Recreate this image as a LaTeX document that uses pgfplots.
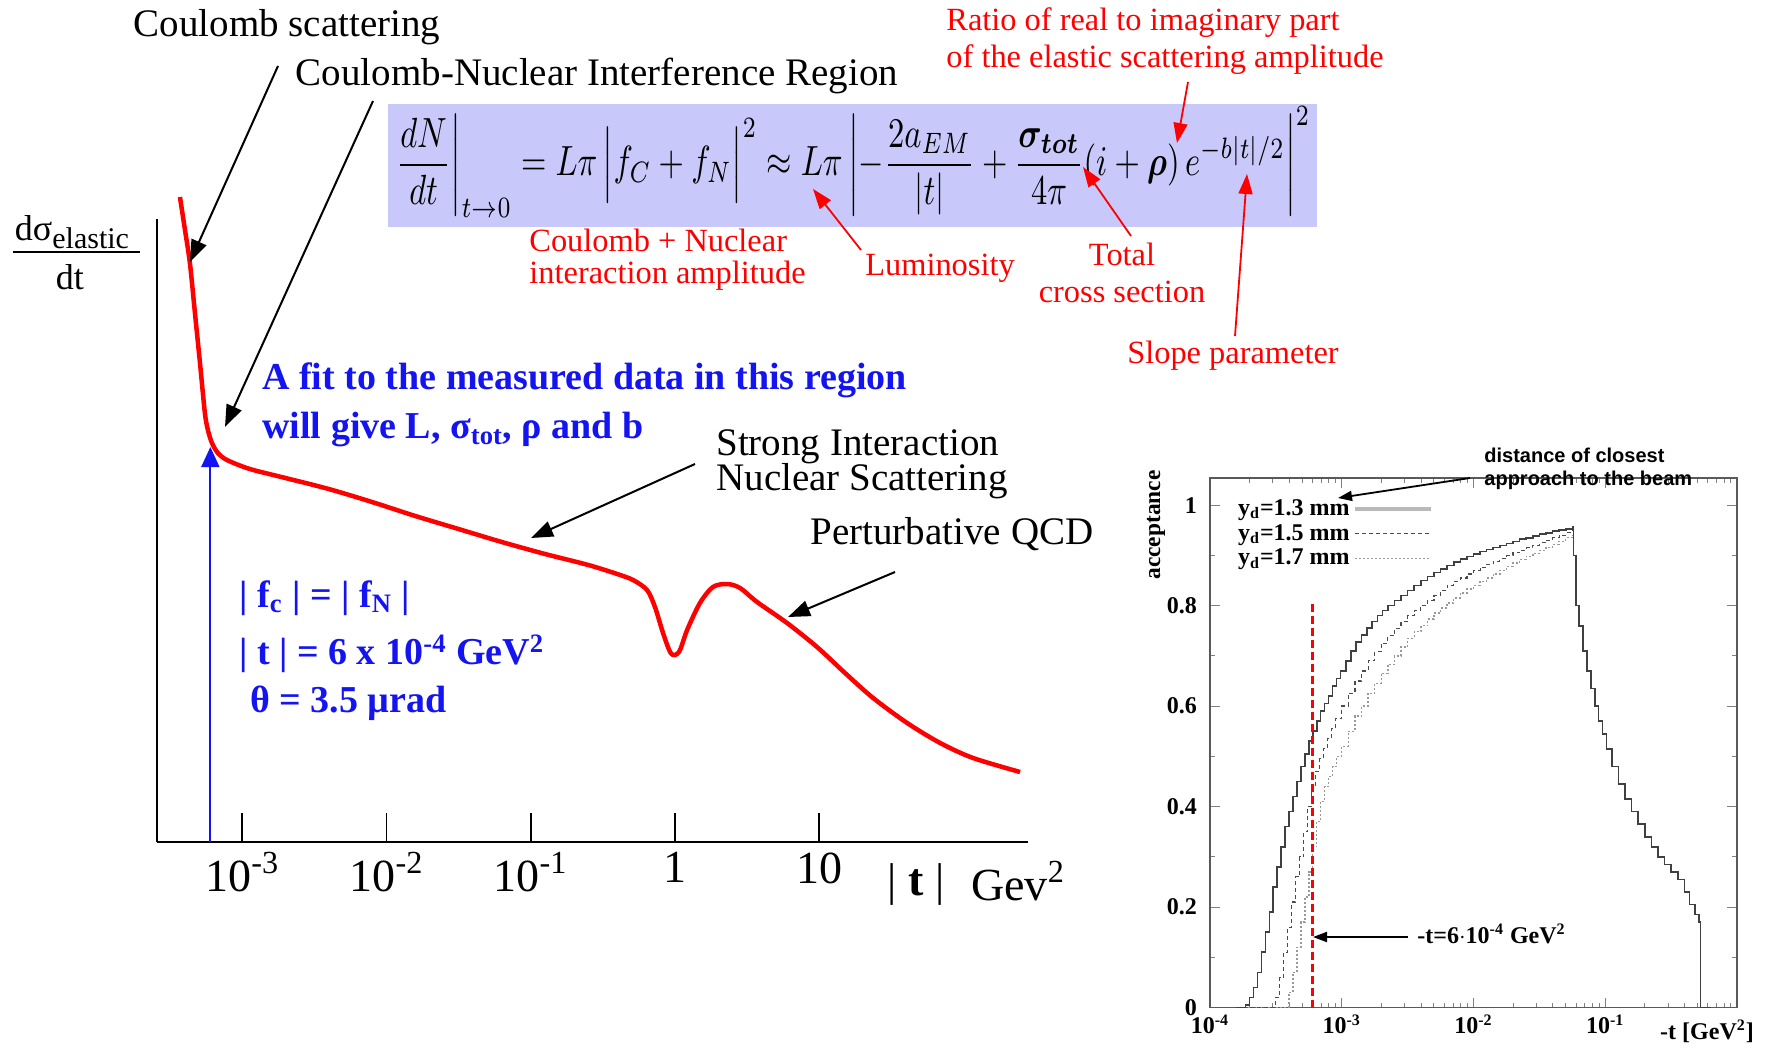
\documentclass[border=0pt]{standalone}
\usepackage{amsmath}
\usepackage{bm}
\usepackage{graphicx}
\usepackage{fontspec}
\setmainfont{Liberation Serif}
\newfontfamily\arialfont{Liberation Sans}
\usepackage{pgfplots}
\pgfplotsset{compat=1.18}
\usetikzlibrary{arrows.meta}
\definecolor{lav}{RGB}{200,200,250}
\definecolor{myblue}{RGB}{20,20,240}
\definecolor{myred}{RGB}{255,0,0}
\newcommand{\fA}{\fontsize{19.5}{22}\selectfont}
\newcommand{\fR}{\fontsize{16.2}{18}\selectfont}
\newcommand{\fB}{\fontsize{19}{22}\selectfont\bfseries}
\begin{document}
\begin{tikzpicture}[x=0.5pt,y=-0.5pt,
  barr/.style={black,line width=1pt,-{Triangle[length=11pt,width=8pt]}},
  rarr/.style={myred,line width=0.9pt,-{Triangle[length=10pt,width=7pt]}},
  lbl/.style={anchor=west, inner sep=0pt},
  ctr/.style={inner sep=0pt}]
\useasboundingbox (0,0) rectangle (1765,1048);
\clip (0,0) rectangle (1765,1048);
\fill[white] (0,0) rectangle (1765,1048);

% ---------------- left main axis ----------------
\begin{axis}[
  at={(78.65pt,-421pt)}, anchor=south west, scale only axis,
  width=435.35pt, height=311.5pt,
  xmin=-3.589, xmax=2.449, ymin=0, ymax=623,
  axis x line=bottom, axis y line=left,
  axis line style={-, line width=1.1pt, black},
  xtick={-3,-2,-1,0,1},
  xticklabels={{10\textsuperscript{-3}},{10\textsuperscript{-2}},{10\textsuperscript{-1}},{1},{10}},
  ytick=\empty,
  tick align=inside, major tick length=14.5pt,
  every tick/.style={black, line width=0.85pt},
  xticklabel style={font=\fontsize{23}{26}\selectfont, inner sep=5pt},
  clip=false,
]
\addplot[myred, line width=2.25pt, smooth] coordinates {
(-3.432,645) (-3.397,612) (-3.363,579) (-3.328,529) (-3.293,479) (-3.259,429)
(-3.238,412) (-3.210,399) (-3.169,389) (-3.106,382) (-2.947,373) (-2.700,364)
(-2.400,353) (-2.100,340) (-1.800,326) (-1.500,313) (-1.200,300) (-0.900,288)
(-0.600,277) (-0.400,268) (-0.290,262)
(-0.193,252) (-0.138,235) (-0.082,209) (-0.033,190) (0.001,187) (0.036,192)
(0.085,212) (0.174,239) (0.264,255) (0.362,258) (0.452,254) (0.570,240)
(0.778,219) (0.986,195) (1.180,169) (1.375,144) (1.611,119) (1.840,99)
(2.068,84) (2.394,70)};
\addplot[myblue, line width=0.9pt, -{Triangle[length=10pt,width=9pt]}] coordinates {(-3.221,0) (-3.221,395)};
\end{axis}

% ---------------- right acceptance axis ----------------
\begin{axis}[
  at={(605pt,-503.75pt)}, anchor=south west, scale only axis,
  width=263.5pt, height=264.75pt,
  xmin=-4, xmax=0, ymin=0, ymax=1.054,
  xtick={-4,-3,-2,-1,0},
  xticklabels={{10\textsuperscript{-4}},{10\textsuperscript{-3}},{10\textsuperscript{-2}},{10\textsuperscript{-1}},{}},
  minor xtick={-3.699,-3.523,-3.398,-3.301,-3.222,-3.155,-3.097,-3.046,
               -2.699,-2.523,-2.398,-2.301,-2.222,-2.155,-2.097,-2.046,
               -1.699,-1.523,-1.398,-1.301,-1.222,-1.155,-1.097,-1.046,
               -0.699,-0.523,-0.398,-0.301,-0.222,-0.155,-0.097,-0.046},
  ytick={0,0.2,0.4,0.6,0.8,1},
  yticklabels={0,0.2,0.4,0.6,0.8,1},
  minor ytick={0.1,0.3,0.5,0.7,0.9},
  tick align=inside, major tick length=5pt, minor tick length=2.5pt,
  every tick/.style={gray, line width=0.5pt},
  axis line style={gray!70!black, line width=0.6pt},
  ticklabel style={font=\bfseries\fontsize{12}{14}\selectfont},
  yticklabel style={xshift=-3pt},
  legend style={draw=none, fill=none, at={(0.045,0.968)}, anchor=north west,
     font=\bfseries\fontsize{12}{12}\selectfont, inner sep=0pt, row sep=-1pt,
     /tikz/every even column/.append style={column sep=10pt}},
  legend plot pos=right, legend cell align=left,
  legend image code/.code={\draw[#1] (0pt,0pt) -- (38pt,0pt);},
]
\addlegendimage{gray!55, line width=1.8pt}
\addlegendentry{y\textsubscript{d}=1.3 mm}
\addlegendimage{gray!60!black, line width=0.6pt, dash pattern=on 2pt off 1.5pt}
\addlegendentry{y\textsubscript{d}=1.5 mm}
\addlegendimage{gray!80, line width=0.8pt, dash pattern=on 1pt off 1pt}
\addlegendentry{y\textsubscript{d}=1.7 mm}
% 1.7 mm (dotted)
\addplot[const plot, forget plot, gray!80, line width=0.7pt, dash pattern=on 1pt off 1pt] coordinates {
(-3.80,0) (-3.43,0) (-3.40,0.03) (-3.37,0.07) (-3.34,0.12) (-3.31,0.17) (-3.28,0.22)
(-3.25,0.27) (-3.22,0.32) (-3.19,0.37) (-3.16,0.41) (-3.13,0.44) (-3.10,0.46)
(-3.07,0.48) (-3.04,0.50) (-3.00,0.52) (-2.95,0.55) (-2.90,0.58) (-2.85,0.60)
(-2.80,0.625) (-2.75,0.645) (-2.70,0.665) (-2.65,0.683) (-2.60,0.70) (-2.55,0.718)
(-2.50,0.735) (-2.45,0.748) (-2.40,0.76) (-2.35,0.773) (-2.30,0.785) (-2.25,0.795)
(-2.20,0.805) (-2.15,0.815) (-2.10,0.825) (-2.05,0.833) (-2.00,0.84) (-1.95,0.848)
(-1.90,0.855) (-1.85,0.863) (-1.80,0.87) (-1.75,0.878) (-1.70,0.885) (-1.65,0.892)
(-1.60,0.898) (-1.55,0.904) (-1.50,0.91) (-1.45,0.916) (-1.40,0.922) (-1.35,0.928)
(-1.30,0.935) (-1.25,0.94)
(-1.24,0.90) (-1.22,0.80) (-1.20,0.76) (-1.17,0.71) (-1.14,0.67) (-1.11,0.635)
(-1.08,0.60) (-1.05,0.57) (-1.02,0.545) (-0.99,0.515) (-0.95,0.48) (-0.90,0.445)
(-0.85,0.415) (-0.80,0.39) (-0.75,0.365) (-0.70,0.34) (-0.65,0.32) (-0.60,0.30)
(-0.55,0.285) (-0.50,0.27) (-0.45,0.255) (-0.40,0.23) (-0.36,0.205) (-0.32,0.185)
(-0.29,0.17) (-0.277,0) (-0.20,0)};
% 1.5 mm (dashed)
\addplot[const plot, forget plot, gray!60!black, line width=0.6pt, dash pattern=on 2pt off 1.5pt] coordinates {
(-3.80,0) (-3.53,0) (-3.50,0.02) (-3.47,0.06) (-3.44,0.11) (-3.41,0.16) (-3.38,0.21)
(-3.35,0.26) (-3.32,0.30) (-3.29,0.35) (-3.26,0.40) (-3.23,0.44) (-3.20,0.47)
(-3.17,0.495) (-3.14,0.515) (-3.11,0.535) (-3.08,0.555) (-3.05,0.575) (-3.00,0.60)
(-2.95,0.625) (-2.90,0.65) (-2.85,0.67) (-2.80,0.69) (-2.75,0.708) (-2.70,0.725)
(-2.65,0.74) (-2.60,0.755) (-2.55,0.768) (-2.50,0.78) (-2.45,0.79) (-2.40,0.80)
(-2.35,0.81) (-2.30,0.82) (-2.25,0.83) (-2.20,0.84) (-2.15,0.848) (-2.10,0.855)
(-2.05,0.863) (-2.00,0.87) (-1.95,0.876) (-1.90,0.882) (-1.85,0.888) (-1.80,0.893)
(-1.75,0.899) (-1.70,0.905) (-1.65,0.91) (-1.60,0.915) (-1.55,0.92) (-1.50,0.925)
(-1.45,0.93) (-1.40,0.935) (-1.35,0.94) (-1.30,0.945) (-1.25,0.95)
(-1.24,0.90) (-1.22,0.80) (-1.20,0.76) (-1.17,0.71) (-1.14,0.67) (-1.11,0.635)
(-1.08,0.60) (-1.05,0.57) (-1.02,0.545) (-0.99,0.515) (-0.95,0.48) (-0.90,0.445)
(-0.85,0.415) (-0.80,0.39) (-0.75,0.365) (-0.70,0.34) (-0.65,0.32) (-0.60,0.30)
(-0.55,0.285) (-0.50,0.27) (-0.45,0.255) (-0.40,0.23) (-0.36,0.205) (-0.32,0.185)
(-0.29,0.17) (-0.277,0) (-0.20,0)};
% 1.3 mm (solid)
\addplot[const plot, forget plot, black!75, line width=0.8pt] coordinates {
(-3.80,0) (-3.73,0.005) (-3.70,0.02) (-3.67,0.04) (-3.64,0.07) (-3.61,0.11) (-3.58,0.15)
(-3.55,0.19) (-3.52,0.24) (-3.49,0.28) (-3.46,0.32) (-3.43,0.36) (-3.40,0.39)
(-3.37,0.42) (-3.34,0.45) (-3.31,0.48) (-3.28,0.505) (-3.25,0.53) (-3.22,0.55)
(-3.19,0.57) (-3.16,0.59) (-3.13,0.605) (-3.10,0.62) (-3.07,0.64) (-3.04,0.655)
(-3.01,0.67) (-2.97,0.69) (-2.93,0.71) (-2.89,0.728) (-2.85,0.742) (-2.81,0.755)
(-2.77,0.768) (-2.73,0.78) (-2.69,0.79) (-2.65,0.80) (-2.60,0.81) (-2.55,0.82)
(-2.50,0.83) (-2.45,0.84) (-2.40,0.85) (-2.35,0.858) (-2.30,0.866) (-2.25,0.873)
(-2.20,0.88) (-2.15,0.887) (-2.10,0.893) (-2.05,0.898) (-2.00,0.903) (-1.95,0.908)
(-1.90,0.912) (-1.85,0.916) (-1.80,0.92) (-1.75,0.924) (-1.70,0.928) (-1.65,0.932)
(-1.60,0.935) (-1.55,0.939) (-1.50,0.942) (-1.45,0.945) (-1.40,0.948) (-1.35,0.951)
(-1.30,0.953) (-1.25,0.956)
(-1.24,0.90) (-1.22,0.80) (-1.20,0.76) (-1.17,0.71) (-1.14,0.67) (-1.11,0.635)
(-1.08,0.60) (-1.05,0.57) (-1.02,0.545) (-0.99,0.515) (-0.95,0.48) (-0.90,0.445)
(-0.85,0.415) (-0.80,0.39) (-0.75,0.365) (-0.70,0.34) (-0.65,0.32) (-0.60,0.30)
(-0.55,0.285) (-0.50,0.27) (-0.45,0.255) (-0.40,0.23) (-0.36,0.205) (-0.32,0.185)
(-0.29,0.17) (-0.277,0) (-0.20,0)};
\addplot[forget plot, myred, line width=1.4pt, dash pattern=on 4pt off 2pt] coordinates {(-3.222,0) (-3.222,0.807)};
\end{axis}

% ---------------- right panel texts ----------------
\node[ctr, rotate=90, font=\bfseries\fontsize{11.7}{13}\selectfont] at (1156,525) {acceptance};
\node[ctr, font=\bfseries\fontsize{12}{14}\selectfont] at (1707,1031) {-t [GeV\textsuperscript{2}]};
\node[lbl, align=left, font=\arialfont\bfseries\fontsize{10}{11.5}\selectfont] at (1484,469) {distance of closest\\approach to the beam};
\draw[black, line width=0.9pt, -{Triangle[length=7pt,width=5pt]}] (1470,478) -- (1338,498);
\node[lbl, font=\bfseries\fontsize{12}{14}\selectfont] at (1417,934) {-t=6$\cdot$10\textsuperscript{-4} GeV\textsuperscript{2}};
\draw[black, line width=1pt, -{Triangle[length=7pt,width=5pt]}] (1408,937) -- (1313,937);

% ---------------- left panel texts ----------------
\begin{scope}
\clip (15,150) rectangle (300,320);
\node[anchor=base, inner sep=0pt, font=\fontsize{18}{20}\selectfont] at (72,241) {dσ\raisebox{-4pt}{\fontsize{15}{16}\selectfont elastic}};
\end{scope}
\draw[black, line width=1.3pt] (13,252) -- (140,252);
\node[anchor=base, inner sep=0pt, font=\fontsize{18}{20}\selectfont] at (70,289) {dt};

\node[ctr, font=\fA] at (287,27) {Coulomb scattering};
\node[ctr, font=\fA] at (597,76) {Coulomb-Nuclear Interference Region};
\draw[barr] (278,66) -- (190,262);
\draw[barr] (373,101) -- (225,427);

\fill[lav] (388,104) rectangle (1317,227);
\node[inner sep=0pt] at (851.5,162) {\resizebox*{459pt}{56pt}{$\displaystyle \left.\frac{dN}{dt}\right|_{t\to0} = L\pi\,\Bigl|f_C+f_N\Bigr|^2 \approx L\pi\left|-\frac{2a_{EM}}{|t|}+\frac{\bm{\sigma}_{\bm{tot}}}{4\pi}(i+\bm{\rho})\,e^{-b|t|/2}\right|^2$}};

\node[lbl, font=\fR, text=myred] at (946,23) {Ratio of real to imaginary part};
\node[lbl, font=\fR, text=myred] at (946,60) {of the elastic scattering amplitude};
\draw[rarr] (1188,82) -- (1177,143);
\node[lbl, font=\fR, text=myred] at (529,240) {Coulomb + Nuclear};
\node[lbl, font=\fR, text=myred] at (529,276) {interaction amplitude};
\node[ctr, font=\fR, text=myred] at (940,268) {Luminosity};
\draw[rarr] (861,250) -- (813,189);
\node[ctr, font=\fR, text=myred] at (1122,254) {Total};
\node[ctr, font=\fR, text=myred] at (1122,292) {cross section};
\draw[rarr] (1131,236) -- (1083,167);
\node[ctr, font=\fR, text=myred] at (1233,356) {Slope parameter};
\draw[rarr] (1235,336) -- (1247,174);

\node[lbl, font=\fB, text=myblue] at (262,380) {A fit to the measured data in this region};
\node[lbl, font=\fB, text=myblue] at (262,430) {will give L, σ\textsubscript{tot}, ρ and b};
\node[lbl, font=\fB, text=myblue] at (239,598) {| f\textsubscript{c} | = | f\textsubscript{N} |};
\node[lbl, font=\fB, text=myblue] at (239,654) {| t | = 6 x 10\textsuperscript{-4} GeV\textsuperscript{2}};
\node[lbl, font=\fB, text=myblue] at (250,703) {θ = 3.5 µrad};

\node[lbl, font=\fA] at (716,447) {Strong Interaction};
\node[lbl, font=\fA] at (716,481) {Nuclear Scattering};
\draw[barr] (695,464) -- (531,538);
\node[ctr, font=\fA] at (952,534) {Perturbative QCD};
\draw[barr] (895,572) -- (788,617);

\node[ctr, font=\fontsize{23}{26}\selectfont] at (916,884) {|\hspace{6pt}\textbf{t}\hspace{6pt}|};
\node[ctr, font=\fontsize{23}{26}\selectfont] at (1018,881) {Gev\textsuperscript{2}};
\end{tikzpicture}
\end{document}
